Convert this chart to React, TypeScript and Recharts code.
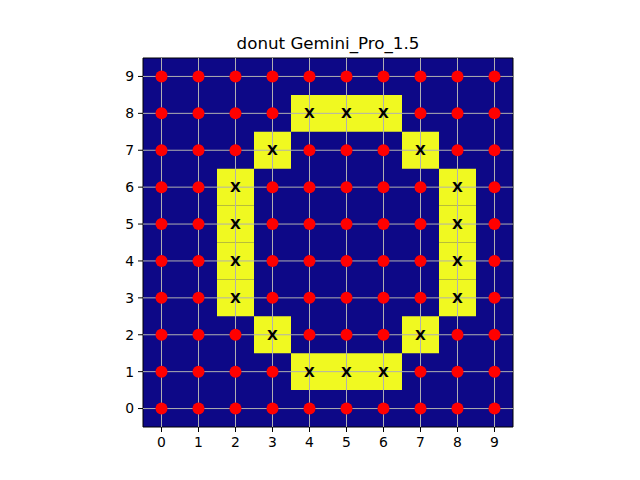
import React from 'react';
import {
  ComposedChart,
  Scatter,
  XAxis,
  YAxis,
  ReferenceArea,
  ReferenceLine,
} from 'recharts';

// axis ticks (both axes share 0..9)
const xTicks = [0, 1, 2, 3, 4, 5, 6, 7, 8, 9];
const yTicks = [0, 1, 2, 3, 4, 5, 6, 7, 8, 9];

// cells of the donut ring (value 1, marked with X)
const ringX = [4, 5, 6, 3, 7, 2, 8, 2, 8, 2, 8, 2, 8, 3, 7, 4, 5, 6];
const ringY = [8, 8, 8, 7, 7, 6, 6, 5, 5, 4, 4, 3, 3, 2, 2, 1, 1, 1];

const ringCells = ringX.map((x, i) => ({ x, y: ringY[i] }));
const isRing = (x: number, y: number) => ringCells.some(c => c.x === x && c.y === y);

const dots: { x: number; y: number }[] = [];
yTicks.forEach(y => {
  xTicks.forEach(x => {
    if (!isRing(x, y)) dots.push({ x, y });
  });
});

const LOW = '#0d0887';
const HIGH = '#f0f921';
const FONT = '"DejaVu Sans", sans-serif';

const Dot = (props: any) => {
  const { cx, cy } = props;
  return <circle cx={cx} cy={cy} r={6} fill="#ff0000" />;
};

const Mark = (props: any) => {
  const { cx, cy } = props;
  return (
    <text
      x={cx}
      y={cy}
      dy="0.36em"
      textAnchor="middle"
      fontFamily={FONT}
      fontWeight="bold"
      fontSize={14}
      fill="#000"
    >
      X
    </text>
  );
};

const tickStyle = { fill: '#000', fontSize: 13.9, fontFamily: FONT };

export default function App() {
  return (
    <div style={{ position: 'absolute', left: 0, top: 0, width: 640, height: 480, background: '#fff' }}>
      <div
        style={{
          position: 'absolute',
          left: 143,
          width: 370,
          top: 33,
          textAlign: 'center',
          fontFamily: FONT,
          fontSize: 16.7,
          color: '#000',
        }}
      >
        donut Gemini_Pro_1.5
      </div>
      <ComposedChart
        width={640}
        height={480}
        margin={{ top: 58, right: 127, left: 103, bottom: 23 }}
      >
        <XAxis
          type="number"
          dataKey="x"
          domain={[-0.5, 9.5]}
          ticks={xTicks}
          allowDataOverflow
          height={30}
          tick={tickStyle}
          tickSize={5}
          tickMargin={5}
          stroke="#000"
          axisLine={false}
          interval={0}
        />
        <YAxis
          type="number"
          dataKey="y"
          domain={[-0.5, 9.5]}
          ticks={yTicks}
          allowDataOverflow
          width={40}
          tick={tickStyle}
          tickSize={5}
          tickMargin={4}
          stroke="#000"
          axisLine={false}
          interval={0}
        />
        <ReferenceArea x1={-0.5} x2={9.5} y1={-0.5} y2={9.5} fill={LOW} fillOpacity={1} stroke="none" />
        {ringCells.map((c, i) => (
          <ReferenceArea
            key={`cell-${i}`}
            x1={c.x - 0.5}
            x2={c.x + 0.5}
            y1={c.y - 0.5}
            y2={c.y + 0.5}
            fill={HIGH}
            fillOpacity={1}
            stroke="none"
          />
        ))}
        {xTicks.map(v => (
          <ReferenceLine key={`gx-${v}`} x={v} stroke="#b0b0b0" strokeWidth={1} />
        ))}
        {yTicks.map(v => (
          <ReferenceLine key={`gy-${v}`} y={v} stroke="#b0b0b0" strokeWidth={1} />
        ))}
        <Scatter data={dots} shape={<Dot />} isAnimationActive={false} />
        <Scatter data={ringCells} shape={<Mark />} isAnimationActive={false} />
        <ReferenceArea x1={-0.5} x2={9.5} y1={-0.5} y2={9.5} fill="none" stroke="#000" strokeWidth={1} />
      </ComposedChart>
    </div>
  );
}
